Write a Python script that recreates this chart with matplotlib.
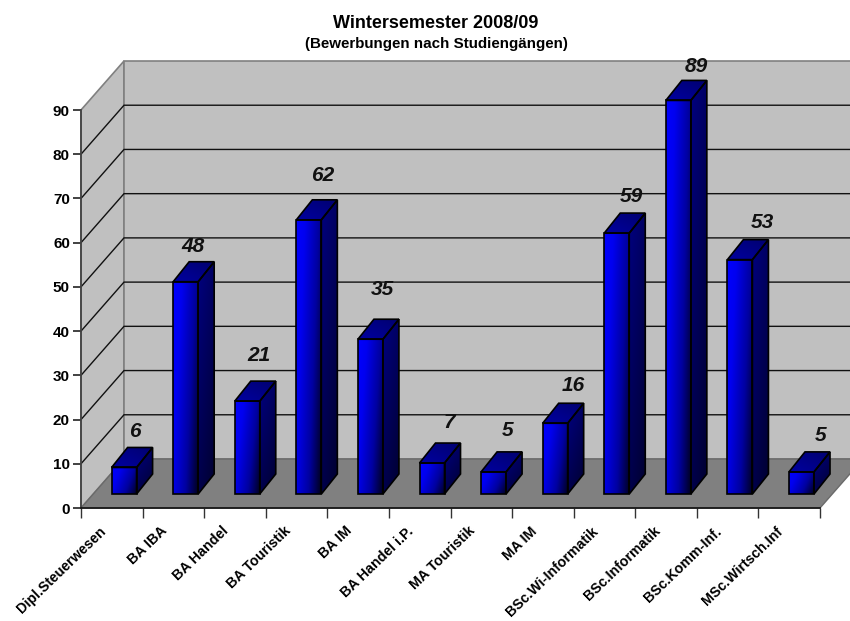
import numpy as np
import matplotlib
matplotlib.use("Agg")
import matplotlib.pyplot as plt
from matplotlib.patches import Polygon
from matplotlib.colors import LinearSegmentedColormap

plt.rcParams['font.family'] = ['Liberation Sans', 'DejaVu Sans']

categories = ["Dipl.Steuerwesen", "BA IBA", "BA Handel", "BA Touristik", "BA IM",
              "BA Handel i.P.", "MA Touristik", "MA IM", "BSc.Wi-Informatik",
              "BSc.Informatik", "BSc.Komm-Inf.", "MSc.Wirtsch.Inf"]
values = [6, 48, 21, 62, 35, 7, 5, 16, 59, 89, 53, 5]
y_ticks = list(range(0, 100, 10))

# label nudges (pixels) relative to the back of the bar top, they wander in the original
label_dx = [11, 7, 12, 14, 12, 17, 14, 18, 15, 18, 22, 19]
label_dy = [16, 15, 26, 24, 30, 21, 21, 18, 17, 14, 17, 16]

W, H = 850, 621
PX_X = (820 - 81) / 12      # pixels per category
PX_Y = (508 - 110) / 90     # pixels per value unit
DEPTH_X = 43 / PX_X         # oblique offset of the back wall
DEPTH_Y = 49 / PX_Y
BAR_W = 25 / PX_X
BAR_DX = 16 / PX_X
BAR_DY = 20 / PX_Y
FLOOR_X = 12.3 / PX_X       # bars stand a bit behind the front edge
FLOOR_Y = 14 / PX_Y

fig = plt.figure(figsize=(W / 100, H / 100), dpi=100)
ax = fig.add_axes([81 / W, 1 - 508 / H, (820 - 81) / W, (508 - 110) / H])
ax.set_facecolor("none")

# walls and floor
left_wall = [(0, 0), (DEPTH_X, DEPTH_Y), (DEPTH_X, 90 + DEPTH_Y), (0, 90)]
back_wall = [(DEPTH_X, DEPTH_Y), (12 + DEPTH_X, DEPTH_Y), (12 + DEPTH_X, 90 + DEPTH_Y), (DEPTH_X, 90 + DEPTH_Y)]
floor = [(0, 0), (12, 0), (12 + DEPTH_X, DEPTH_Y), (DEPTH_X, DEPTH_Y)]
ax.add_patch(Polygon(left_wall, fc="#c0c0c0", ec="#808080", lw=1.2, clip_on=False, zorder=1))
ax.add_patch(Polygon(back_wall, fc="#c0c0c0", ec="#808080", lw=1.2, clip_on=False, zorder=1))
ax.add_patch(Polygon(floor, fc="#808080", ec="#6a6a6a", lw=1.0, clip_on=False, zorder=1))

for t in y_ticks[1:-1]:
    ax.plot([0, DEPTH_X, 12 + DEPTH_X], [t, t + DEPTH_Y, t + DEPTH_Y], color="#111111", lw=1.0,
            clip_on=False, zorder=2, solid_joinstyle="miter")

bright = LinearSegmentedColormap.from_list("front", [(0, "#0000ff"), (0.25, "#0000f0"), (0.65, "#0000a0"), (1, "#000020")])
side = LinearSegmentedColormap.from_list("side", ["#000080", "#000030"])
top = LinearSegmentedColormap.from_list("top", ["#0000a0", "#000070"])


def face(corners, cmap, grad, z):
    xs = [c[0] for c in corners]
    ys = [c[1] for c in corners]
    poly = Polygon(corners, fc="none", ec="black", lw=1.2, clip_on=False, zorder=z + 0.1,
                   joinstyle="miter")
    ax.add_patch(poly)
    im = ax.imshow(grad, cmap=cmap, vmin=0, vmax=1, aspect="auto", origin="lower",
                   extent=(min(xs), max(xs), min(ys), max(ys)), zorder=z, interpolation="bilinear")
    im.set_clip_box(fig.bbox)
    im.set_clip_path(poly)


gx = np.linspace(0, 1, 64)
xx, yy = np.meshgrid(gx, gx)
front_grad = 0.7 * xx + 0.3 * (1 - yy)
side_grad = 0.35 * xx + 0.65 * (1 - yy)
top_grad = 0.5 * xx + 0.5 * yy

for i, v in enumerate(values):
    x0 = i + 0.5 - BAR_W / 2 + FLOOR_X
    x1 = x0 + BAR_W
    y0 = FLOOR_Y
    y1 = y0 + v
    z = 3 + i
    face([(x0, y0), (x1, y0), (x1, y1), (x0, y1)], bright, front_grad, z)
    face([(x1, y0), (x1 + BAR_DX, y0 + BAR_DY), (x1 + BAR_DX, y1 + BAR_DY), (x1, y1)], side, side_grad, z)
    face([(x0, y1), (x1, y1), (x1 + BAR_DX, y1 + BAR_DY), (x0 + BAR_DX, y1 + BAR_DY)], top, top_grad, z)
    ax.text(x0 + BAR_W / 2 + label_dx[i] / PX_X, y1 + BAR_DY + label_dy[i] / PX_Y, str(v),
            ha="center", va="center", fontsize=15, fontweight="bold", fontstyle="italic",
            color="#111111", clip_on=False, zorder=20)

ax.set_xlim(0, 12)
ax.set_ylim(0, 90)
ax.set_yticks(y_ticks)
ax.set_yticklabels([str(t) for t in y_ticks], fontsize=11, fontweight="bold")
ax.set_xticks(np.arange(0, 13))
ax.set_xticklabels([])
ax.tick_params(axis="x", which="major", length=7, width=1.0, color="#333333")
ax.tick_params(axis="y", length=6, width=1.2, color="#222222", pad=2)

# category labels sit left of the slot centre, tick labels can't be nudged sideways
for i, name in enumerate(categories):
    ax.annotate(name, xy=(i + 0.5, 0), xycoords=("data", "axes fraction"),
                xytext=(-9.5, -11.5), textcoords="offset points", rotation=44,
                ha="right", va="top", rotation_mode="anchor", fontsize=10.2, fontweight="bold",
                annotation_clip=False)

for name in ["top", "right"]:
    ax.spines[name].set_visible(False)
ax.spines["left"].set_color("#444444")
ax.spines["left"].set_linewidth(1.3)
ax.spines["bottom"].set_color("#111111")
ax.spines["bottom"].set_linewidth(1.2)
ax.spines["left"].set_zorder(15)
ax.spines["bottom"].set_zorder(15)

fig.text(436 / W, 1 - 23 / H, "Wintersemester 2008/09", ha="center", va="center",
         fontsize=13, fontweight="bold")
fig.text(436 / W, 1 - 44 / H, "(Bewerbungen nach Studiengängen)", ha="center", va="center",
         fontsize=10.9, fontweight="bold")

fig.savefig("out.png", dpi=100)
